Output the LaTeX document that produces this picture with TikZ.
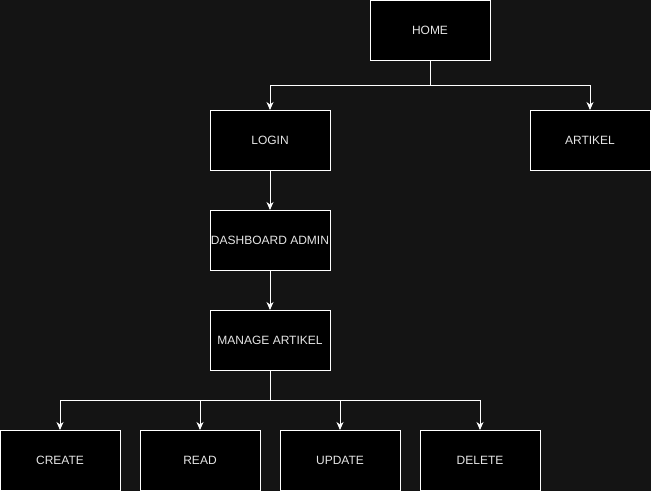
\documentclass[tikz,border=0pt]{standalone}
\usepackage{fontspec}
\setmainfont{Liberation Sans}
\usetikzlibrary{arrows.meta}
\definecolor{bg}{HTML}{141414}
\definecolor{txt}{HTML}{E6E6E6}
\begin{document}
\begin{tikzpicture}[x=1pt,y=-1pt,
  box/.style={draw=white,fill=black,line width=1pt,minimum width=120pt,minimum height=60pt,inner sep=0pt,outer sep=0pt,text=txt,font=\fontsize{12}{14}\selectfont,anchor=north west},
  conn/.style={draw=white,line width=1pt,-{Stealth[length=8pt,width=7pt,inset=2.5pt]}}]
\fill[bg] (0,0) rectangle (651,491);
\useasboundingbox (0,0) rectangle (651,491);
\node[box] (home) at (370,0) {HOME};
\node[box] (login) at (210,110) {LOGIN};
\node[box] (artikel) at (530,110) {ARTIKEL};
\node[box] (dash) at (210,210) {DASHBOARD ADMIN};
\node[box] (manage) at (210,310) {MANAGE ARTIKEL};
\node[box] (create) at (0,430) {CREATE};
\node[box] (read) at (140,430) {READ};
\node[box] (update) at (280,430) {UPDATE};
\node[box] (delete) at (420,430) {DELETE};
\coordinate (h1) at (430,85);
\coordinate (m1) at (270,400);
\draw[conn] (home.south) -- (h1) -| (login.north);
\draw[conn] (home.south) -- (h1) -| (artikel.north);
\draw[conn] (login) -- (dash);
\draw[conn] (dash) -- (manage);
\draw[conn] (manage.south) -- (m1) -| (create.north);
\draw[conn] (manage.south) -- (m1) -| (read.north);
\draw[conn] (manage.south) -- (m1) -| (update.north);
\draw[conn] (manage.south) -- (m1) -| (delete.north);
\end{tikzpicture}
\end{document}
